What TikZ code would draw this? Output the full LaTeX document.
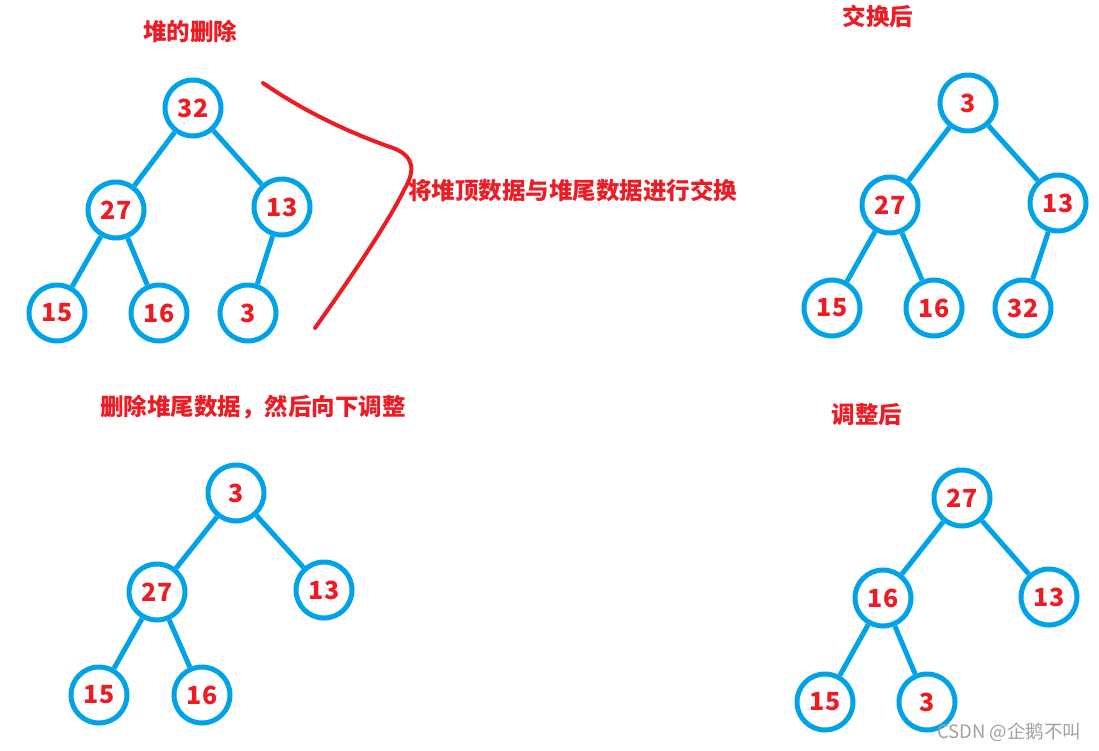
\documentclass[tikz,border=0pt]{standalone}
\usepackage{fontspec}
\setmainfont{Noto Sans CJK SC}
\definecolor{pblue}{RGB}{0,162,232}
\definecolor{pred}{RGB}{237,28,36}
\definecolor{wmgray}{RGB}{160,160,160}
\begin{document}
\begin{tikzpicture}[x=1pt,y=-1pt,
  hn/.style={circle,draw=pblue,line width=5pt,minimum size=56pt,inner sep=0pt,text=pred,font=\fontsize{25}{25}\selectfont\bfseries},
  he/.style={draw=pblue,line width=5pt},
  ttl/.style={text=pred,font=\fontsize{23.5}{23.5}\selectfont\bfseries,inner sep=0pt},
  wm/.style={text=wmgray,font=\fontsize{18.5}{18.5}\selectfont,inner sep=0pt}]
\useasboundingbox (0,0) rectangle (1099,750);

% ---- tree 1: before
\node[ttl] (t1) at (190,32) {堆的删除};
\node[hn] (a32) at (193,108) {32};
\node[hn] (a27) at (116,210) {27};
\node[hn] (a13) at (282,207) {13};
\node[hn] (a15) at (57,313) {15};
\node[hn] (a16) at (159,313) {16};
\node[hn] (a3)  at (248,313) {3};
\draw[he] (a32) -- (a27);
\draw[he] (a32) -- (a13);
\draw[he] (a27) -- (a15);
\draw[he] (a27) -- (a16);
\draw[he] (a13) -- (a3);

% ---- annotation
\draw[pred,line width=4pt,line cap=round]
  (263,83) .. controls (305,112) and (350,133) .. (393,148)
  .. controls (414,156) and (416,170) .. (404,190)
  .. controls (392,215) and (360,265) .. (315,328);
\node[ttl,anchor=west] (swap) at (408,190) {将堆顶数据与堆尾数据进行交换};

% ---- tree 2: after swap
\node[ttl] (t2) at (878,16) {交换后};
\node[hn] (b3)  at (968,103) {3};
\node[hn] (b27) at (890,205) {27};
\node[hn] (b13) at (1058,203) {13};
\node[hn] (b15) at (832,308) {15};
\node[hn] (b16) at (934,308) {16};
\node[hn] (b32) at (1023,308) {32};
\draw[he] (b3) -- (b27);
\draw[he] (b3) -- (b13);
\draw[he] (b27) -- (b15);
\draw[he] (b27) -- (b16);
\draw[he] (b13) -- (b32);

% ---- tree 3: after delete
\node[ttl,anchor=west] (t3) at (100,407) {删除堆尾数据，然后向下调整};
\node[hn] (c3)  at (236,493) {3};
\node[hn] (c27) at (157,592) {27};
\node[hn] (c13) at (324,590) {13};
\node[hn] (c15) at (99,695) {15};
\node[hn] (c16) at (202,695) {16};
\draw[he] (c3) -- (c27);
\draw[he] (c3) -- (c13);
\draw[he] (c27) -- (c15);
\draw[he] (c27) -- (c16);

% ---- tree 4: after adjust
\node[ttl] (t4) at (867,415) {调整后};
\node[hn] (d27) at (962,498) {27};
\node[hn] (d16) at (883,598) {16};
\node[hn] (d13) at (1049,597) {13};
\node[hn] (d15) at (825,702) {15};
\node[hn] (d3)  at (927,702) {3};
\draw[he] (d27) -- (d16);
\draw[he] (d27) -- (d13);
\draw[he] (d16) -- (d15);
\draw[he] (d16) -- (d3);

\node[wm,anchor=west] (wmk) at (937,732) {CSDN @企鹅不叫};
\end{tikzpicture}
\end{document}
